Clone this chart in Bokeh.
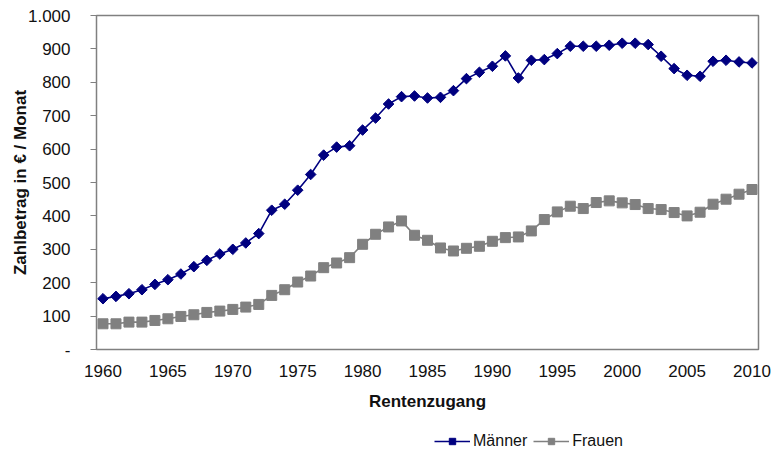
import math
from bokeh.plotting import figure
from bokeh.layouts import column
from bokeh.models import FixedTicker, Legend, LegendItem, Range1d, ColumnDataSource
from bokeh.embed import file_html
from bokeh.resources import INLINE

years = list(range(1960, 2011))
maenner = [152, 159, 167, 179, 195, 209, 226, 248, 267, 286,
           300, 319, 347, 417, 435, 477, 524, 582, 606, 610,
           657, 693, 735, 757, 759, 753, 755, 775, 811, 830,
           848, 879, 813, 866, 868, 886, 908, 908, 908, 911,
           917, 917, 913, 878, 841, 821, 818, 863, 866, 861, 858]
frauen = [77, 77, 82, 82, 87, 92, 99, 104, 111, 115,
          120, 127, 135, 162, 179, 202, 220, 245, 259, 275,
          315, 345, 367, 385, 342, 327, 304, 295, 303, 309,
          324, 335, 337, 355, 389, 412, 429, 422, 440, 445,
          439, 434, 422, 419, 410, 400, 411, 435, 450, 465, 479]
x_ticks = [1960, 1965, 1970, 1975, 1980, 1985, 1990, 1995, 2000, 2005, 2010]
y_ticks = [0, 100, 200, 300, 400, 500, 600, 700, 800, 900, 1000]
y_tick_labels = ["-", "100", "200", "300", "400", "500", "600", "700", "800", "900", "1.000"]

FONT = "Liberation Sans"
NAVY = "#000080"
GRAY = "#808080"

src = ColumnDataSource(dict(year=years, m=maenner, f=frauen))

p = figure(frame_width=662, frame_height=334, output_backend="svg", toolbar_location=None,
           x_range=Range1d(1959.5, 2010.5), y_range=Range1d(0, 1000),
           min_border_left=96, min_border_right=16, min_border_top=15, min_border_bottom=80)
p.background_fill_color = "white"
p.border_fill_color = "white"
p.outline_line_color = GRAY
p.outline_line_width = 1.5
p.xgrid.visible = False
p.ygrid.visible = False

p.line("year", "m", source=src, line_color=NAVY, line_width=1.6)
p.scatter("year", "m", source=src, marker="square", angle=math.pi / 4, size=7.5,
          fill_color=NAVY, line_color=NAVY)
p.line("year", "f", source=src, line_color=GRAY, line_width=1.6)
p.scatter("year", "f", source=src, marker="square", size=10,
          fill_color=GRAY, line_color=GRAY)

xa = p.xaxis[0]
xa.ticker = FixedTicker(ticks=x_ticks)
xa.minor_tick_line_color = None
xa.major_tick_out = 0
xa.major_tick_in = 0
xa.axis_line_color = GRAY
xa.major_label_standoff = 15
xa.major_label_text_font = FONT
xa.major_label_text_font_size = "17px"
xa.major_label_text_color = "#111111"
xa.axis_label = "Rentenzugang"
xa.axis_label_text_font = FONT
xa.axis_label_text_font_size = "17px"
xa.axis_label_text_font_style = "bold"
xa.axis_label_text_color = "#111111"
xa.axis_label_standoff = 12

ya = p.yaxis[0]
ya.ticker = FixedTicker(ticks=y_ticks)
ya.major_label_overrides = {t: l for t, l in zip(y_ticks, y_tick_labels)}
ya.minor_tick_line_color = None
ya.major_tick_out = 6
ya.major_tick_in = 0
ya.major_tick_line_color = GRAY
ya.axis_line_color = GRAY
ya.major_label_standoff = 20
ya.major_label_text_font = FONT
ya.major_label_text_font_size = "17px"
ya.major_label_text_color = "#111111"
ya.axis_label = "Zahlbetrag in € / Monat"
ya.axis_label_text_font = FONT
ya.axis_label_text_font_size = "17px"
ya.axis_label_text_font_style = "bold"
ya.axis_label_text_color = "#111111"
ya.axis_label_standoff = -5

# Legend strip: a second figure with the same series drawn outside its visible range
p2 = figure(width=774, height=23, output_backend="svg", toolbar_location=None,
            x_range=Range1d(1959.5, 2010.5), y_range=Range1d(-20, -10),
            x_axis_type=None, y_axis_type=None,
            min_border_left=0, min_border_right=0, min_border_top=0, min_border_bottom=0)
p2.outline_line_color = None
p2.background_fill_color = "white"
p2.border_fill_color = "white"
p2.xgrid.visible = False
p2.ygrid.visible = False
lm = p2.line("year", "m", source=src, line_color=NAVY, line_width=1.6)
sm = p2.scatter("year", "m", source=src, marker="square", angle=math.pi / 4, size=7.5,
                fill_color=NAVY, line_color=NAVY)
lf = p2.line("year", "f", source=src, line_color=GRAY, line_width=1.6)
sf = p2.scatter("year", "f", source=src, marker="square", size=10,
                fill_color=GRAY, line_color=GRAY)

legend = Legend(items=[LegendItem(label="Männer", renderers=[lm, sm]),
                       LegendItem(label="Frauen", renderers=[lf, sf])],
                orientation="horizontal", location=(338, 2),
                label_text_font=FONT, label_text_font_size="16px", label_text_color="#111111",
                glyph_width=36, glyph_height=16, label_height=16, label_standoff=3, spacing=6,
                border_line_color=None, background_fill_alpha=0, padding=0, margin=0)
p2.add_layout(legend, "center")

layout = column(p, p2, spacing=0)
open("out.html", "w").write(file_html(layout, INLINE))
